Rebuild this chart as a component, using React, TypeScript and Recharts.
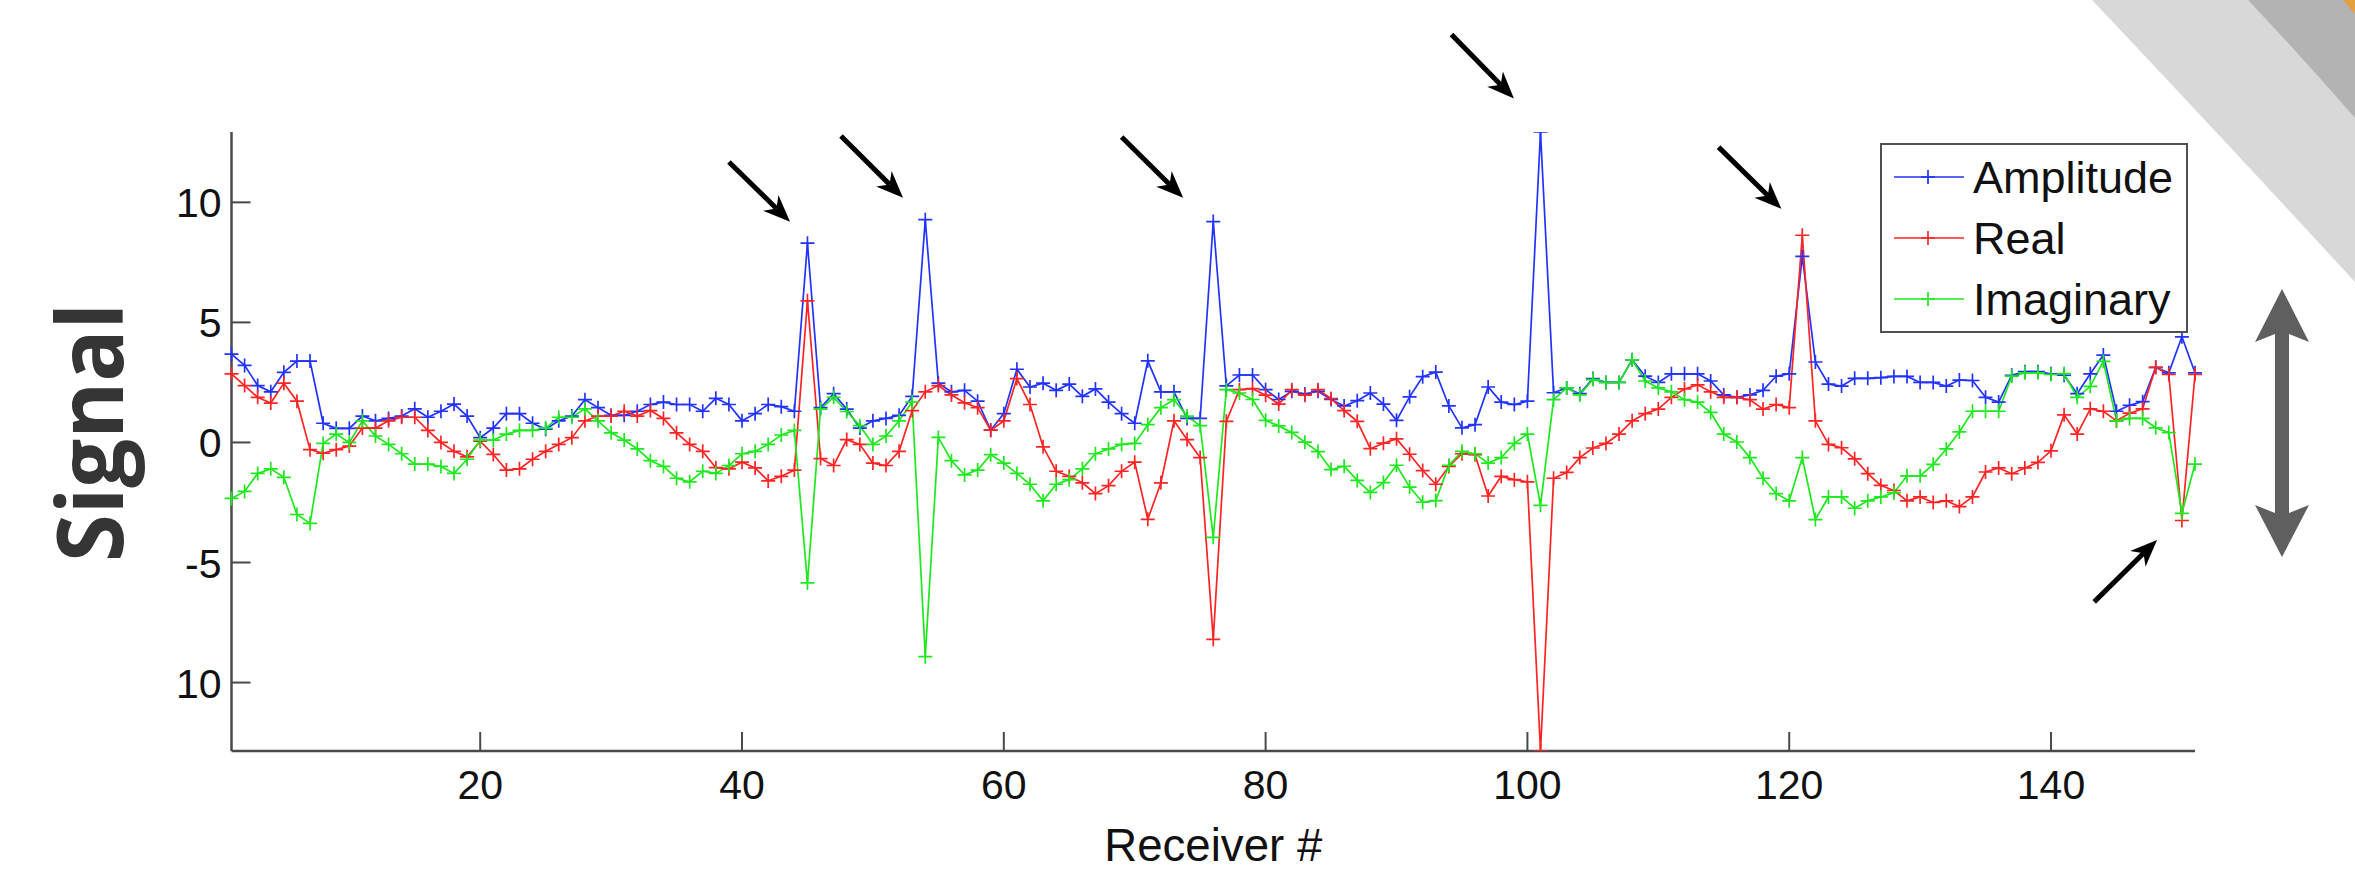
import React from "react";
import { LineChart, Line, XAxis, YAxis, Legend, ReferenceLine } from "recharts";

// signal per receiver, 1..151
const AMPLITUDE = [
  3.68, 3.21, 2.37, 2.11, 2.92, 3.39, 3.39, 0.8, 0.59, 0.59,
  1.1, 0.9, 1.0, 1.1, 1.4, 1.05, 1.3, 1.6, 1.1, 0.2,
  0.6, 1.2, 1.2, 0.8, 0.55, 0.9, 1.1, 1.78, 1.45, 1.13,
  1.13, 1.3, 1.58, 1.68, 1.58, 1.58, 1.3, 1.84, 1.58, 0.9,
  1.2, 1.58, 1.49, 1.3, 8.3, 1.45, 2.03, 1.39, 0.6, 0.9,
  1.0, 1.13, 1.92, 9.28, 2.47, 2.11, 2.17, 1.72, 0.51, 1.2,
  3.05, 2.31, 2.47, 2.17, 2.43, 1.92, 2.23, 1.68, 1.2, 0.8,
  3.4, 2.11, 2.11, 1.0, 1.0, 9.2, 2.36, 2.81, 2.81, 2.2,
  1.79, 2.13, 2.02, 2.13, 1.79, 1.52, 1.74, 2.06, 1.6, 0.92,
  1.9, 2.74, 2.93, 1.52, 0.61, 0.74, 2.31, 1.68, 1.58, 1.72,
  12.93, 2.07, 2.27, 2.03, 2.66, 2.5, 2.5, 3.44, 2.76, 2.5,
  2.86, 2.86, 2.86, 2.56, 1.98, 1.88, 1.98, 2.17, 2.76, 2.86,
  7.75, 3.35, 2.43, 2.35, 2.67, 2.67, 2.7, 2.75, 2.75, 2.5,
  2.5, 2.35, 2.6, 2.58, 1.88, 1.68, 2.8, 2.95, 2.95, 2.86,
  2.8, 2.03, 2.86, 3.64, 1.3, 1.55, 1.7, 3.13, 2.9, 4.4,
  2.9,
];

const REAL = [
  2.86, 2.37, 1.88, 1.64, 2.47, 1.72, -0.3, -0.45, -0.3, -0.15,
  0.6, 0.6, 0.9, 1.05, 1.05, 0.5, 0.0, -0.37, -0.6, 0.05,
  -0.5, -1.15, -1.1, -0.7, -0.37, -0.08, 0.2, 0.9, 1.1, 1.1,
  1.3, 1.1, 1.33, 1.0, 0.4, -0.08, -0.37, -1.05, -1.1, -0.82,
  -1.06, -1.6, -1.41, -1.15, 5.9, -0.67, -0.96, 0.12, -0.08, -0.86,
  -0.96, -0.37, 1.33, 2.11, 2.37, 1.98, 1.65, 1.45, 0.51, 0.9,
  2.66, 1.58, -0.18, -1.2, -1.41, -1.68, -2.13, -1.8, -1.2, -0.82,
  -3.2, -1.68, 0.9, 0.12, -0.63, -8.2, 0.88, 2.2, 2.24, 1.97,
  1.6, 2.2, 1.97, 2.2, 1.83, 1.33, 0.88, -0.26, -0.03, 0.15,
  -0.49, -1.17, -1.74, -1.0, -0.47, -0.51, -2.23, -1.41, -1.55, -1.64,
  -12.85, -1.49, -1.25, -0.63, -0.23, -0.04, 0.35, 0.9, 1.2, 1.39,
  1.88, 2.23, 2.4, 2.11, 1.88, 1.88, 1.78, 1.39, 1.58, 1.45,
  8.63, 0.9, -0.08, -0.22, -0.68, -1.3, -1.79, -2.0, -2.43, -2.27,
  -2.5, -2.43, -2.67, -2.27, -1.23, -1.06, -1.3, -1.06, -0.83, -0.35,
  1.15, 0.35, 1.4, 1.3, 0.9, 1.22, 1.4, 3.13, 2.83, -3.25,
  2.83,
];

const IMAGINARY = [
  -2.33, -2.04, -1.29, -1.1, -1.45, -3.0, -3.37, -0.04, 0.35, 0.0,
  0.9, 0.27, -0.08, -0.47, -0.9, -0.9, -1.0, -1.29, -0.7, 0.1,
  0.1, 0.35, 0.5, 0.5, 0.6, 1.05, 1.05, 1.4, 0.9, 0.4,
  0.1, -0.27, -0.76, -1.0, -1.49, -1.64, -1.2, -1.29, -0.96, -0.47,
  -0.37, -0.08, 0.31, 0.5, -5.85, 1.39, 1.88, 1.29, 0.7, -0.08,
  0.27, 0.9, 1.68, -8.92, 0.21, -0.76, -1.35, -1.15, -0.51, -0.86,
  -1.29, -1.74, -2.43, -1.74, -1.55, -1.1, -0.47, -0.27, -0.08, -0.04,
  0.74, 1.45, 1.78, 1.1, 0.7, -3.95, 2.2, 2.06, 1.79, 0.92,
  0.69, 0.42, 0.01, -0.38, -1.13, -0.99, -1.58, -2.08, -1.67, -0.95,
  -1.86, -2.49, -2.42, -0.95, -0.37, -0.47, -0.86, -0.63, -0.04, 0.35,
  -2.62, 1.78, 2.27, 1.98, 2.62, 2.5, 2.5, 3.44, 2.56, 2.27,
  2.11, 1.78, 1.68, 1.25, 0.35, 0.02, -0.63, -1.49, -2.13, -2.43,
  -0.63, -3.21, -2.27, -2.27, -2.74, -2.43, -2.27, -2.1, -1.39, -1.39,
  -0.91, -0.27, 0.44, 1.3, 1.3, 1.3, 2.76, 2.9, 2.9, 2.83,
  2.87, 1.88, 2.34, 3.38, 0.9, 1.0, 1.0, 0.61, 0.41, -2.95,
  -0.9,
];

const X_TICKS = [20, 40, 60, 80, 100, 120, 140];
const Y_TICKS = [-10, -5, 0, 5, 10];
const Y_TICK_LABELS = ["10", "-5", "0", "5", "10"];

const SERIES = [
  { key: "amplitude", name: "Amplitude", color: "#2233ff" },
  { key: "real", name: "Real", color: "#ff2424" },
  { key: "imaginary", name: "Imaginary", color: "#1ee81e" },
];

// pointer arrows in data units: tail -> tip
const POINTERS = [
  { from: { x: 39.0, y: 11.68 }, to: { x: 43.67, y: 9.19 } },
  { from: { x: 47.56, y: 12.76 }, to: { x: 52.3, y: 10.19 } },
  { from: { x: 69.0, y: 12.72 }, to: { x: 73.7, y: 10.19 } },
  { from: { x: 94.2, y: 16.99 }, to: { x: 98.97, y: 14.33 } },
  { from: { x: 114.6, y: 12.3 }, to: { x: 119.4, y: 9.73 } },
  { from: { x: 143.3, y: -6.64 }, to: { x: 148.1, y: -4.06 } },
];

const WIDTH = 2355;
const HEIGHT = 880;
const AXIS_COLOR = "#4a4a4a";
const FONT = '"Liberation Sans", Arial, Helvetica, sans-serif';

const rows = AMPLITUDE.map((v, i) => ({
  receiver: i + 1,
  amplitude: v,
  real: REAL[i],
  imaginary: IMAGINARY[i],
}));

const plusPath = (cx: number, cy: number, r = 7) =>
  `M${cx - r},${cy}H${cx + r}M${cx},${cy - r}V${cy + r}`;

const makePlusDot = (color: string) => (props: any) => {
  const { cx, cy, index } = props;
  if (cx == null || cy == null) return <g key={`e-${index}`} />;
  return (
    <path key={`d-${index}`} d={plusPath(cx, cy)} stroke={color} strokeWidth={1.7} fill="none" />
  );
};

const XTick = (props: any) => {
  const { x, y, payload } = props;
  return (
    <g>
      <line x1={x} x2={x} y1={y} y2={y - 19} stroke={AXIS_COLOR} strokeWidth={2} />
      <text x={x} y={y + 48} textAnchor="middle" fontSize={41} fontFamily={FONT} fill="#111">
        {payload.value}
      </text>
    </g>
  );
};

const YTick = (props: any) => {
  const { x, y, payload } = props;
  const label = Y_TICK_LABELS[Y_TICKS.indexOf(payload.value)];
  return (
    <g>
      <line x1={x} x2={x + 19} y1={y} y2={y} stroke={AXIS_COLOR} strokeWidth={2} />
      <text x={x - 10} y={y + 15} textAnchor="end" fontSize={41} fontFamily={FONT} fill="#111">
        {label}
      </text>
    </g>
  );
};

// black pointer with a swept-back head
const PointerShape = (props: any) => {
  const { x1, y1, x2, y2 } = props;
  const len = Math.hypot(x2 - x1, y2 - y1) || 1;
  const ux = (x2 - x1) / len;
  const uy = (y2 - y1) / len;
  const px = -uy;
  const py = ux;
  const head = 27;
  const half = 11;
  const notch = 8;
  const bx = x2 - ux * head;
  const by = y2 - uy * head;
  const nx = x2 - ux * (head - notch);
  const ny = y2 - uy * (head - notch);
  const pts = [
    [x2, y2],
    [bx + px * half, by + py * half],
    [nx, ny],
    [bx - px * half, by - py * half],
  ]
    .map((p) => p.join(","))
    .join(" ");
  return (
    <g>
      <line x1={x1} y1={y1} x2={nx} y2={ny} stroke="#000" strokeWidth={5} />
      <polygon points={pts} fill="#000" />
    </g>
  );
};

const LegendBox = () => (
  <svg width={308} height={190} style={{ display: "block" }}>
    <rect x={1} y={1} width={306} height={188} fill="#fff" stroke="#505050" strokeWidth={2} />
    {SERIES.map((s, i) => {
      const cy = 34 + i * 61;
      return (
        <g key={s.key}>
          <line x1={14} x2={84} y1={cy} y2={cy} stroke={s.color} strokeWidth={1.7} />
          <path d={plusPath(48, cy)} stroke={s.color} strokeWidth={1.7} fill="none" />
          <text x={93} y={cy + 15.5} fontSize={45} fontFamily={FONT} fill="#111">
            {s.name}
          </text>
        </g>
      );
    })}
  </svg>
);

// grey corner swoosh and the double-headed range arrow at the right
const Decorations = () => (
  <svg
    width={WIDTH}
    height={HEIGHT}
    style={{ position: "absolute", left: 0, top: 0, pointerEvents: "none" }}
  >
    <path d="M2092,0 Q2215,130 2355,282 L2355,0 Z" fill="#d8d8d8" />
    <path d="M2248,0 Q2300,55 2355,118 L2355,0 Z" fill="#b3b3b3" />
    <path d="M2343,0 L2355,0 L2355,14 Z" fill="#e3a040" />
    <path
      d="M2282,289 L2309,342 L2289,334 L2289,513 L2309,505 L2282,557 L2255,505 L2275,513 L2275,334 L2255,342 Z"
      fill="#5f5f5f"
    />
  </svg>
);

export default function App() {
  return (
    <div style={{ position: "absolute", left: 0, top: 0, width: WIDTH, height: HEIGHT, background: "#fff" }}>
      <Decorations />
      <LineChart
        width={WIDTH}
        height={HEIGHT}
        data={rows}
        margin={{ top: 132, right: 160, bottom: 0, left: 0 }}
      >
        <XAxis
          dataKey="receiver"
          type="number"
          domain={[1, 151]}
          ticks={X_TICKS}
          height={129}
          tickSize={0}
          tickMargin={0}
          tickLine={false}
          axisLine={{ stroke: AXIS_COLOR, strokeWidth: 2.5 }}
          tick={<XTick />}
          interval={0}
          label={{
            content: ({ viewBox }: any) => (
              <text
                x={viewBox.x + viewBox.width / 2}
                y={viewBox.y + 110}
                textAnchor="middle"
                fontSize={46}
                fontFamily={FONT}
                fill="#111"
                textLength={218}
                lengthAdjust="spacingAndGlyphs"
              >
                Receiver #
              </text>
            ),
          }}
        />
        <YAxis
          type="number"
          domain={[-12.85, 12.93]}
          allowDataOverflow
          ticks={Y_TICKS}
          width={231.5}
          tickSize={0}
          tickMargin={0}
          tickLine={false}
          axisLine={{ stroke: AXIS_COLOR, strokeWidth: 2.5 }}
          tick={<YTick />}
          interval={0}
          label={{
            content: ({ viewBox }: any) => {
              const cx = viewBox.x + 123;
              const cy = viewBox.y + viewBox.height / 2 - 9;
              return (
                <text
                  x={cx}
                  y={cy}
                  transform={`rotate(-90 ${cx} ${cy})`}
                  textAnchor="middle"
                  fontSize={92}
                  fontWeight={700}
                  fontFamily='"Open Sans", "DejaVu Sans", sans-serif'
                  fill="#353535"
                  textLength={259}
                  lengthAdjust="spacingAndGlyphs"
                >
                  Signal
                </text>
              );
            },
          }}
        />
        {SERIES.map((s) => (
          <Line
            key={s.key}
            dataKey={s.key}
            name={s.name}
            type="linear"
            stroke={s.color}
            strokeWidth={1.7}
            dot={makePlusDot(s.color)}
            activeDot={false}
            isAnimationActive={false}
          />
        ))}
        {POINTERS.map((p, i) => (
          <ReferenceLine
            key={`ptr-${i}`}
            segment={[p.from, p.to]}
            ifOverflow="visible"
            shape={PointerShape}
          />
        ))}
        <Legend
          layout="vertical"
          align="center"
          verticalAlign="middle"
          wrapperStyle={{ left: 1880, top: 143, width: 308, height: 190 }}
          content={<LegendBox />}
        />
      </LineChart>
    </div>
  );
}
